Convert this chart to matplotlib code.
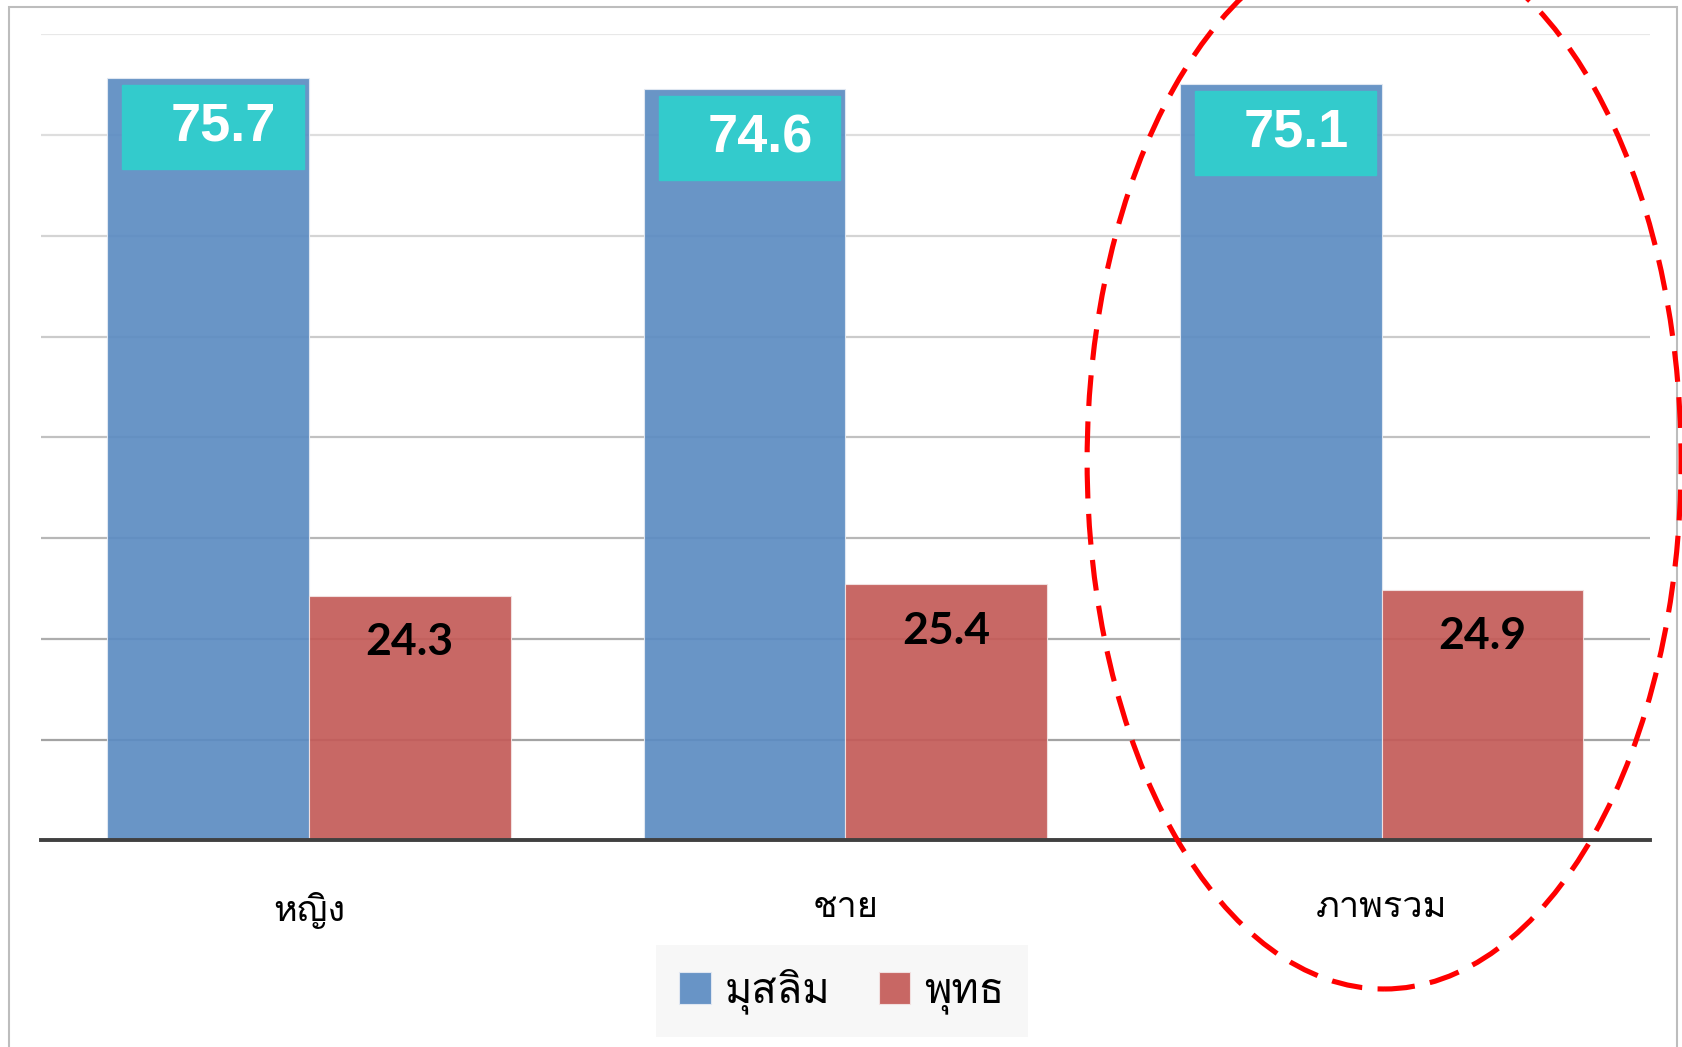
import matplotlib
matplotlib.use('Agg')

import matplotlib.pyplot as plt
from matplotlib import font_manager
from matplotlib.ft2font import FT2Font
from matplotlib.patches import Rectangle, Ellipse
import numpy as np

categories = ['หญิง', 'ชาย', 'ภาพรวม']
series_names = ['มุสลิม', 'พุทธ']
muslim = [75.7, 74.6, 75.1]
buddhist = [24.3, 25.4, 24.9]
grid_levels = [10, 20, 30, 40, 50, 60, 70, 80]


def find_thai_font():
    # first installed family that actually has Thai glyphs
    found = []
    for f in font_manager.fontManager.ttflist:
        try:
            ft = FT2Font(f.fname)
            if ft.get_char_index(ord('ห')) and ft.get_char_index(ord('ม')):
                found.append(f.name)
        except Exception:
            pass
    return found[0] if found else 'DejaVu Sans'


thai_font = find_thai_font()

blue = '#5C8CC2'
red = '#C45B58'
cyan = '#33CBCC'

fig = plt.figure(figsize=(16.83, 10.47), dpi=100)
ax = fig.add_axes([0.0242, 0.1973, 0.956, 0.770])

x = np.arange(len(categories))
w = 0.376

# gridlines, lighter towards the top
grays = np.linspace(0.64, 0.91, len(grid_levels))
for lvl, g in zip(grid_levels, grays):
    ax.axhline(lvl, color=str(g), lw=1.6, zorder=1)

b1 = ax.bar(x - w / 2, muslim, w, color=blue, alpha=0.92, edgecolor='#E4EAF3', lw=0.8, zorder=2)
b2 = ax.bar(x + w / 2, buddhist, w, color=red, alpha=0.92, edgecolor='#F3E4E4', lw=0.8, zorder=2)

# value boxes on the blue bars
for xi, v in zip(x, muslim):
    left = xi - w + 0.028
    ax.add_patch(Rectangle((left, v - 9.1), 0.338, 8.4, color=cyan, zorder=3))
    ax.text(left + 0.169 + 0.02, v - 4.9, f'{v:.1f}', ha='center', va='center',
            color='white', fontsize=39, fontweight='bold', family='Liberation Sans', zorder=4)

for xi, v in zip(x, buddhist):
    ax.text(xi + w / 2, v - 4.6, f'{v:.1f}', ha='center', va='center',
            color='black', fontsize=32, fontweight='bold', family='Lato', zorder=4)

ax.set_xlim(-0.5, 2.5)
ax.set_ylim(0, 80)
ax.set_yticks([])
ax.set_xticks(x)
ax.set_xticklabels(categories, family=thai_font, fontsize=26)
ax.tick_params(axis='x', length=0, pad=37)
for s in ['top', 'left', 'right']:
    ax.spines[s].set_visible(False)
ax.spines['bottom'].set_color('#404040')
ax.spines['bottom'].set_linewidth(2.8)
ax.spines['bottom'].set_zorder(5)

leg = fig.legend([b1, b2], series_names, loc='center', bbox_to_anchor=(0.5003, 0.0534),
                 ncol=2, frameon=True, fancybox=False, prop={'family': thai_font, 'size': 30},
                 handlelength=0.75, handleheight=0.8, handletextpad=0.35,
                 columnspacing=1.15, borderpad=0.55, borderaxespad=0)
leg.get_frame().set_facecolor('#F7F7F7')
leg.get_frame().set_edgecolor('none')
leg.get_frame().set_alpha(1)

# outer frame and the highlight ring
fig.patches.append(Rectangle((9 / 1683, -0.05), 1668 / 1683, 1.05 - 7 / 1047,
                             transform=fig.transFigure, fill=False,
                             edgecolor='#BDBDBD', lw=1.5))
fig.patches.append(Ellipse((0.8224, 0.5597), 0.3529, 1.0086, transform=fig.transFigure,
                           fill=False, edgecolor='#FF0000', lw=3.7,
                           linestyle=(0, (6.0, 3.0)), zorder=10))

plt.savefig('out.png', dpi=100)
plt.close()
